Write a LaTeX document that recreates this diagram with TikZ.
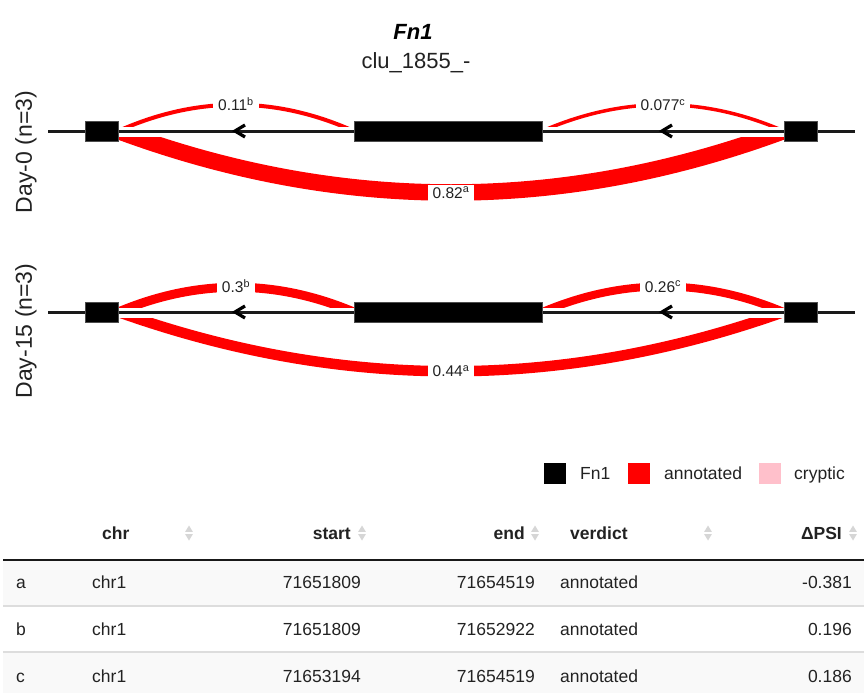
\documentclass[tikz,border=0pt]{standalone}
\usepackage{fontspec}
\setmainfont{Liberation Sans}
\usetikzlibrary{calc}
\pgfdeclarelayer{background}
\pgfsetlayers{background,main}
\definecolor{rowgray}{HTML}{F9F9F9}
\definecolor{sepgray}{HTML}{DDDDDD}
\definecolor{icongray}{HTML}{D6D6D6}
\definecolor{pinkkey}{HTML}{FFC0CB}
\definecolor{introncol}{HTML}{1A1A1A}
\definecolor{txtcol}{HTML}{222222}
\newcommand{\myfs}[1]{\fontsize{#1}{#1}\selectfont}
\begin{document}
\begin{tikzpicture}[x=1pt,y=-1pt,
  exon/.style={draw=black!70, line width=0.6pt, fill=black, inner sep=0pt, minimum height=20pt},
  intron/.style={draw=introncol, line width=3pt},
  junc/.style={draw=red, line cap=butt},
  jlabel/.style={fill=white, anchor=base, inner xsep=5pt, inner ysep=2pt, text depth=4pt, font=\myfs{15.5}, text=txtcol},
  chev/.style={draw=black, line width=3.2pt, line join=miter, line cap=butt},
  ylab/.style={rotate=90, inner sep=0pt, font=\myfs{23}, text=txtcol},
  keybox/.style={minimum width=22pt, minimum height=21pt, inner sep=0pt},
  keytext/.style={anchor=base west, inner sep=0pt, font=\myfs{17.5}, text=txtcol},
  thead/.style={inner sep=0pt, font=\myfs{17.5}\bfseries, text=txtcol},
  tcell/.style={inner sep=0pt, font=\myfs{17.5}, text=txtcol},
  sorticon/.pic={
    \fill[icongray] (-3.8,-1.2) -- (3.8,-1.2) -- (0,-7.5) -- cycle;
    \fill[icongray] (-3.8,1.2) -- (3.8,1.2) -- (0,7.5) -- cycle;}
]
\useasboundingbox (0,0) rectangle (867,693);
\begin{pgfonlayer}{background}
\fill[white] (0,0) rectangle (867,693);
\end{pgfonlayer}

% ---------- titles ----------
\node[inner sep=0pt, font=\myfs{22}\bfseries\itshape, text=black] (title) at (413,32) {Fn1};
\node[inner sep=0pt, font=\myfs{22}, text=txtcol] (subtitle) at (416,63) {clu\_1855\_-};

% ---------- y labels ----------
\node[ylab] (day0) at (26,152) {Day-0 (n=3)};
\node[ylab] (day15) at (26,331) {Day-15 (n=3)};

% ---------- panel 1 ----------
\node[exon, minimum width=33pt] (a1) at (101.5,131) {};
\node[exon, minimum width=188pt] (b1) at (448,131) {};
\node[exon, minimum width=33pt] (c1) at (800.5,131) {};
\coordinate (l1) at (48,131);
\coordinate (r1) at (855,131);
\coordinate (ch1) at (235,131);
\coordinate (ch2) at (662,131);

\begin{pgfonlayer}{background}
\draw[intron] (l1) -- (r1);
\begin{scope}
  \clip (118,0) rectangle (354,126);
  \draw[junc, line width=4pt] (a1.east) .. controls ($(a1.east)!1/3!(b1.west)+(0,-35)$) and ($(a1.east)!2/3!(b1.west)+(0,-35)$) .. (b1.west);
\end{scope}
\begin{scope}
  \clip (542,0) rectangle (784,126);
  \draw[junc, line width=3.5pt] (b1.east) .. controls ($(b1.east)!1/3!(c1.west)+(0,-35)$) and ($(b1.east)!2/3!(c1.west)+(0,-35)$) .. (c1.west);
\end{scope}
\begin{scope}
  \clip (118,137) rectangle (784,260);
  \draw[junc, line width=16.5pt] (a1.east) .. controls ($(a1.east)!1/3!(c1.west)+(0,82)$) and ($(a1.east)!2/3!(c1.west)+(0,82)$) .. (c1.west);
\end{scope}
\end{pgfonlayer}
\draw[chev] ($(ch1)+(10,-6)$) -- (ch1) -- ($(ch1)+(10,6)$);
\draw[chev] ($(ch2)+(10,-6)$) -- (ch2) -- ($(ch2)+(10,6)$);
\node[jlabel] (lb1) at ($(a1.east)!0.5!(b1.west)+(0,-20.5)$) {0.11\textsuperscript{b}};
\node[jlabel] (lc1) at ($(b1.east)!0.5!(c1.west)+(0,-20.5)$) {0.077\textsuperscript{c}};
\node[jlabel] (la1) at ($(a1.east)!0.5!(c1.west)+(0,67)$) {0.82\textsuperscript{a}};

% ---------- panel 2 ----------
\node[exon, minimum width=33pt] (a2) at (101.5,312) {};
\node[exon, minimum width=188pt] (b2) at (448,312) {};
\node[exon, minimum width=33pt] (c2) at (800.5,312) {};
\coordinate (l2) at (48,312);
\coordinate (r2) at (855,312);
\coordinate (ch3) at (235,312);
\coordinate (ch4) at (662,312);

\begin{pgfonlayer}{background}
\draw[intron] (l2) -- (r2);
\begin{scope}
  \clip (118,0) rectangle (354,307);
  \draw[junc, line width=9pt] (a2.east) .. controls ($(a2.east)!1/3!(b2.west)+(0,-33)$) and ($(a2.east)!2/3!(b2.west)+(0,-33)$) .. (b2.west);
\end{scope}
\begin{scope}
  \clip (542,0) rectangle (784,307);
  \draw[junc, line width=8pt] (b2.east) .. controls ($(b2.east)!1/3!(c2.west)+(0,-34)$) and ($(b2.east)!2/3!(c2.west)+(0,-34)$) .. (c2.west);
\end{scope}
\begin{scope}
  \clip (118,318) rectangle (784,440);
  \draw[junc, line width=10.5pt] (a2.east) .. controls ($(a2.east)!1/3!(c2.west)+(0,79)$) and ($(a2.east)!2/3!(c2.west)+(0,79)$) .. (c2.west);
\end{scope}
\end{pgfonlayer}
\draw[chev] ($(ch3)+(10,-6)$) -- (ch3) -- ($(ch3)+(10,6)$);
\draw[chev] ($(ch4)+(10,-6)$) -- (ch4) -- ($(ch4)+(10,6)$);
\node[jlabel] (lb2) at ($(a2.east)!0.5!(b2.west)+(0,-19.5)$) {0.3\textsuperscript{b}};
\node[jlabel] (lc2) at ($(b2.east)!0.5!(c2.west)+(0,-20)$) {0.26\textsuperscript{c}};
\node[jlabel] (la2) at ($(a2.east)!0.5!(c2.west)+(0,64.5)$) {0.44\textsuperscript{a}};

% ---------- legend ----------
\node[keybox, fill=black] (k1) at (555,473) {};
\node[keytext] (t1) at (580,479.5) {Fn1};
\node[keybox, fill=red] (k2) at (638.5,473) {};
\node[keytext] (t2) at (664,479.5) {annotated};
\node[keybox, fill=pinkkey] (k3) at (769.5,473) {};
\node[keytext] (t3) at (794,479.5) {cryptic};

% ---------- table ----------
\fill[rowgray] (3,560) rectangle (864,606);
\fill[rowgray] (3,652) rectangle (864,693);
\draw[sepgray, line width=1.2pt] (3,606) -- (864,606);
\draw[sepgray, line width=1.2pt] (3,652) -- (864,652);
\draw[black!90, line width=1.5pt] (3,560) -- (864,560);

\node[thead, anchor=base west] (hchr) at (102,539) {chr};
\node[thead, anchor=base east] (hstart) at (351,539) {start};
\node[thead, anchor=base east] (hend) at (525,539) {end};
\node[thead, anchor=base west] (hverd) at (570,539) {verdict};
\node[thead, anchor=base east] (hdpsi) at (842,539) {ΔPSI};
\pic at (189,533) {sorticon};
\pic at (362,533) {sorticon};
\pic at (535,533) {sorticon};
\pic at (708,533) {sorticon};
\pic at (853,533) {sorticon};

\node[tcell, anchor=base west] (ra) at (16,588.5) {a};
\node[tcell, anchor=base west] (ra1) at (92,588.5) {chr1};
\node[tcell, anchor=base east] (ra2) at (361,588.5) {71651809};
\node[tcell, anchor=base east] (ra3) at (535,588.5) {71654519};
\node[tcell, anchor=base west] (ra4) at (560,588.5) {annotated};
\node[tcell, anchor=base east] (ra5) at (852,588.5) {-0.381};

\node[tcell, anchor=base west] (rb) at (16,635.5) {b};
\node[tcell, anchor=base west] (rb1) at (92,635.5) {chr1};
\node[tcell, anchor=base east] (rb2) at (361,635.5) {71651809};
\node[tcell, anchor=base east] (rb3) at (535,635.5) {71652922};
\node[tcell, anchor=base west] (rb4) at (560,635.5) {annotated};
\node[tcell, anchor=base east] (rb5) at (852,635.5) {0.196};

\node[tcell, anchor=base west] (rc) at (16,682.5) {c};
\node[tcell, anchor=base west] (rc1) at (92,682.5) {chr1};
\node[tcell, anchor=base east] (rc2) at (361,682.5) {71653194};
\node[tcell, anchor=base east] (rc3) at (535,682.5) {71654519};
\node[tcell, anchor=base west] (rc4) at (560,682.5) {annotated};
\node[tcell, anchor=base east] (rc5) at (852,682.5) {0.186};
\end{tikzpicture}
\end{document}
